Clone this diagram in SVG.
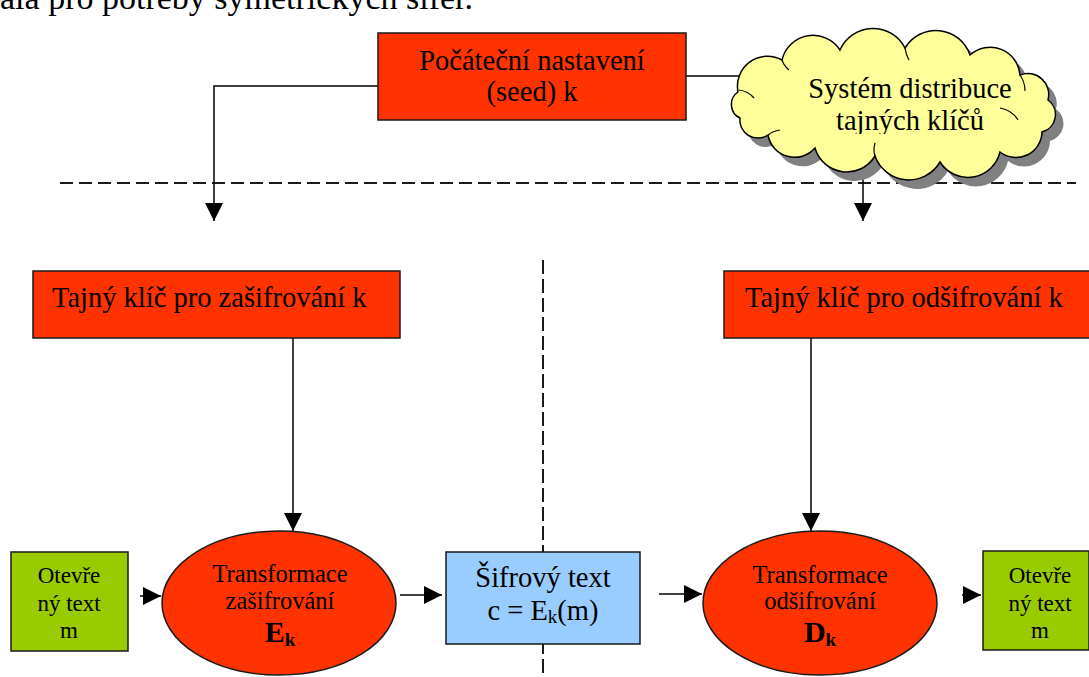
<svg xmlns="http://www.w3.org/2000/svg" width="1089" height="677" viewBox="0 0 1089 677">
<style>
  text { font-family: "Liberation Serif", "Times New Roman", serif; fill: #000; }
  .box { stroke: #1a1a1a; stroke-width: 1.5; }
  .red { fill: #ff3300; }
  .green { fill: #99cc00; }
  .blue { fill: #99ccff; }
  .conn { stroke: #000; stroke-width: 1.5; fill: none; }
  .dash { stroke: #1a1a1a; stroke-width: 2; fill: none; stroke-dasharray: 13 6; }
  .t28 { font-size: 28.5px; }
  .t24 { font-size: 24.5px; }
  .t23 { font-size: 23px; }
</style>
<defs>
  <marker id="arr" viewBox="0 0 18 18" refX="18" refY="9" markerWidth="18" markerHeight="18" markerUnits="userSpaceOnUse" orient="auto">
    <path d="M0,0 L18,9 L0,18 z" fill="#000"/>
  </marker>
  <path id="cloudPath" d="M738,92 A30,30 0 0 1 782,60 A32,32 0 0 1 840,50 A36,36 0 0 1 905,48 A36,36 0 0 1 970,55 A30,30 0 0 1 1020,75 A21,21 0 0 1 1048,100 A18,18 0 0 1 1042,132 A26,26 0 0 1 1000,152 A33,33 0 0 1 940,162 A36,36 0 0 1 875,156 A33,33 0 0 1 815,148 A27,27 0 0 1 768,135 A18,18 0 0 1 740,118 A15,15 0 0 1 738,92 Z"/>
  <clipPath id="cloudTextClip"><rect x="760" y="60" width="300" height="74"/></clipPath>
</defs>

<rect width="1089" height="677" fill="#fff"/>

<text x="0" y="9" style="font-size:34px">ala pro potřeby symetrických šifer.</text>

<g id="separators">
  <line class="dash" x1="60" y1="183" x2="1076" y2="183"/>
  <line class="dash" x1="543" y1="260" x2="543" y2="677" style="stroke-dasharray:14 5"/>
</g>

<g id="connectors">
  <polyline class="conn" points="378,86 214,86 214,221" marker-end="url(#arr)"/>
  <line class="conn" x1="686" y1="76" x2="741" y2="76"/>
  <line class="conn" x1="863" y1="170" x2="863" y2="221" marker-end="url(#arr)"/>
  <line class="conn" x1="293" y1="338" x2="293" y2="531" marker-end="url(#arr)"/>
  <line class="conn" x1="811" y1="338" x2="811" y2="531" marker-end="url(#arr)"/>
  <line class="conn" x1="140" y1="596" x2="161" y2="596" marker-end="url(#arr)"/>
  <line class="conn" x1="400" y1="595" x2="442" y2="595" marker-end="url(#arr)"/>
  <line class="conn" x1="659" y1="594" x2="702" y2="594" marker-end="url(#arr)"/>
  <line class="conn" x1="962" y1="595" x2="981" y2="595" marker-end="url(#arr)"/>
</g>

<g id="seed">
  <rect class="box red" x="378" y="33" width="308" height="87"/>
  <text class="t28" x="532" y="70" text-anchor="middle">Počáteční nastavení</text>
  <text class="t28" x="532" y="101" text-anchor="middle">(seed) k</text>
</g>

<g id="cloud">
  <use href="#cloudPath" transform="translate(8,9)" fill="#808080"/>
  <use href="#cloudPath" fill="#ffff99" stroke="#000" stroke-width="1.5"/>
  <g class="conn" style="stroke-width:1.2">
    <path d="M739,90 q9,1 15,8"/>
    <path d="M782,60 q2,6 7,10"/>
    <path d="M905,48 q1,7 4,12"/>
    <path d="M1020,75 q5,7 5,16"/>
    <path d="M1000,108 q12,2 18,12"/>
    <path d="M875,156 q-2,-6 0,-13"/>
    <path d="M768,135 q5,-4 12,-5"/>
  </g>
  <g clip-path="url(#cloudTextClip)">
    <text class="t28" x="910" y="98" text-anchor="middle">Systém distribuce</text>
    <text class="t28" x="910" y="130" text-anchor="middle">tajných klíčů</text>
  </g>
</g>

<g id="key-enc">
  <rect class="box red" x="33" y="271" width="367" height="67"/>
  <text class="t28" x="52" y="307">Tajný klíč pro zašifrování k</text>
</g>

<g id="key-dec">
  <rect class="box red" x="724" y="271" width="368" height="67"/>
  <text class="t28" x="745" y="307">Tajný klíč pro odšifrování k</text>
</g>

<g id="plain-in">
  <rect class="box green" x="11" y="552" width="117" height="99"/>
  <text class="t23" x="69" y="583" text-anchor="middle">Otevře</text>
  <text class="t23" x="69" y="611" text-anchor="middle">ný text</text>
  <text class="t23" x="69" y="638" text-anchor="middle">m</text>
</g>

<g id="encrypt">
  <ellipse class="box red" cx="279" cy="603" rx="117" ry="72"/>
  <text class="t24" x="280" y="582" text-anchor="middle">Transformace</text>
  <text class="t24" x="280" y="609" text-anchor="middle">zašifrování</text>
  <text x="280" y="642" text-anchor="middle" font-weight="bold" style="font-size:30px">E<tspan dy="4" style="font-size:19px">k</tspan></text>
</g>

<g id="cipher">
  <rect class="box blue" x="446" y="552" width="194" height="92"/>
  <text class="t28" x="543" y="587" text-anchor="middle">Šifrový text</text>
  <text class="t28" x="543" y="620" text-anchor="middle">c = E<tspan dy="3" style="font-size:19px">k</tspan><tspan dy="-3">(m)</tspan></text>
</g>

<g id="decrypt">
  <ellipse class="box red" cx="820" cy="603" rx="117" ry="72"/>
  <text class="t24" x="820" y="583" text-anchor="middle">Transformace</text>
  <text class="t24" x="820" y="609" text-anchor="middle">odšifrování</text>
  <text x="820" y="642" text-anchor="middle" font-weight="bold" style="font-size:30px">D<tspan dy="4" style="font-size:19px">k</tspan></text>
</g>

<g id="plain-out">
  <rect class="box green" x="983" y="551" width="106" height="99"/>
  <text class="t23" x="1040" y="583" text-anchor="middle">Otevře</text>
  <text class="t23" x="1040" y="611" text-anchor="middle">ný text</text>
  <text class="t23" x="1040" y="638" text-anchor="middle">m</text>
</g>
</svg>
